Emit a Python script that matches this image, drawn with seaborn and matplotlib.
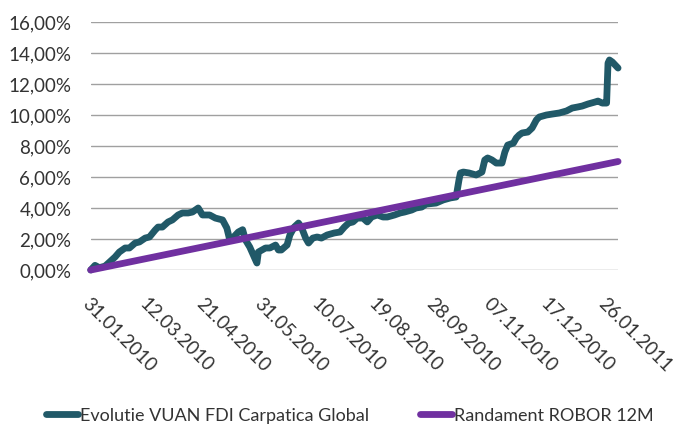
#!/usr/bin/env python3

import matplotlib
matplotlib.use('Agg')
import matplotlib.pyplot as plt     # plotting
import seaborn as sns               # plotting
import pandas as pd                 # dates / data handling

# data (values in %)
start_date = '31.01.2010'

vuan_days = [0, 3, 6, 10, 13, 17, 20, 24, 27, 31,
             34, 38, 41, 45, 47, 50, 54, 57, 61, 64,
             68, 71, 75, 78, 83, 87, 92, 95, 97, 99,
             103, 106, 108, 111, 115, 116, 117, 122, 125, 129,
             131, 133, 137, 139, 142, 145, 147, 150, 152, 155,
             158, 161, 165, 170, 174, 177, 180, 183, 186, 190,
             193, 196, 200, 204, 207, 212, 216, 219, 224, 227,
             231, 234, 239, 241, 246, 251, 255, 257, 258, 260,
             264, 269, 273, 275, 277, 280, 283, 287, 289, 291,
             295, 297, 299, 301, 305, 308, 311, 313, 318, 322,
             327, 332, 336, 340, 343, 347, 352, 354, 357, 360,
             361, 362, 364, 368]
vuan_values = [0.0, 0.3, 0.15, 0.25, 0.5, 0.84, 1.16, 1.42, 1.42, 1.74,
               1.81, 2.06, 2.13, 2.58, 2.77, 2.77, 3.10, 3.23, 3.55, 3.68,
               3.68, 3.74, 4.0, 3.55, 3.55, 3.35, 3.23, 2.71, 1.95, 2.06,
               2.45, 2.6, 1.94, 1.48, 0.65, 0.45, 1.16, 1.42, 1.42, 1.61,
               1.29, 1.29, 1.61, 2.26, 2.77, 3.03, 2.77, 2.06, 1.74, 2.06,
               2.13, 2.06, 2.26, 2.39, 2.45, 2.77, 3.03, 3.10, 3.35, 3.35,
               3.10, 3.42, 3.55, 3.42, 3.42, 3.55, 3.68, 3.74, 3.87, 4.0,
               4.06, 4.25, 4.3, 4.32, 4.52, 4.65, 4.71, 5.81, 6.26, 6.32,
               6.26, 6.13, 6.32, 7.10, 7.23, 7.10, 6.9, 6.9, 7.61, 8.06,
               8.19, 8.52, 8.71, 8.84, 8.9, 9.16, 9.68, 9.87, 10.0, 10.06,
               10.13, 10.26, 10.45, 10.52, 10.58, 10.71, 10.84, 10.9, 10.77, 10.77,
               13.35, 13.55, 13.42, 13.03]

robor_days = [0, 368]
robor_values = [0.0, 7.0]

tick_labels = ['31.01.2010', '12.03.2010', '21.04.2010', '31.05.2010', '10.07.2010',
               '19.08.2010', '28.09.2010', '07.11.2010', '17.12.2010', '26.01.2011']
y_ticks = [0, 2, 4, 6, 8, 10, 12, 14, 16]

vuan_label = 'Evolutie VUAN FDI Carpatica Global'
robor_label = 'Randament ROBOR 12M'


def to_dates(days):
    return pd.to_datetime(start_date, dayfirst=True) + pd.to_timedelta(days, unit='D')


sns.set_theme(style='whitegrid')
plt.rcParams['font.family'] = ['Lato', 'DejaVu Sans']

fig = plt.figure(figsize=(6.8, 4.25), dpi=100)
ax = fig.add_axes([0.1334, 0.3647, 0.7755, 0.5835])

sns.lineplot(x=to_dates(vuan_days), y=vuan_values, ax=ax, color='#215968',
             lw=4.9, label=vuan_label, clip_on=False)
sns.lineplot(x=to_dates(robor_days), y=robor_values, ax=ax, color='#7030A0',
             lw=4.9, label=robor_label, clip_on=False)

ax.set_xlim(to_dates([0])[0], to_dates([368])[0])
ax.set_ylim(0, 16)
ax.set_yticks(y_ticks)
ax.set_yticklabels([f'{v:.2f}%'.replace('.', ',') for v in y_ticks])
ax.set_xticks(pd.to_datetime(tick_labels, dayfirst=True))
ax.set_xticklabels(tick_labels, rotation=-45, ha='left', va='top', rotation_mode='anchor')

ax.grid(axis='x', visible=False)
ax.grid(axis='y', color='#A0A0A0', lw=1.0)
for s in ax.spines.values():
    s.set_visible(False)
ax.tick_params(axis='y', length=0, pad=14, labelsize=13.5, labelcolor='#333333')
ax.tick_params(axis='x', length=0, pad=18, labelsize=13.5, labelcolor='#333333')
ax.set(xlabel='', ylabel='')
ax.set_facecolor('white')

handles, labels = ax.get_legend_handles_labels()
ax.get_legend().remove()
fig.legend(handles, labels, loc='center', bbox_to_anchor=(0.514, 0.022), ncol=2,
           frameon=False, fontsize=13, handlelength=1.8, handletextpad=0.1,
           columnspacing=2.8, labelcolor='#333333')

plt.savefig('out.png', dpi=100, facecolor='white')
